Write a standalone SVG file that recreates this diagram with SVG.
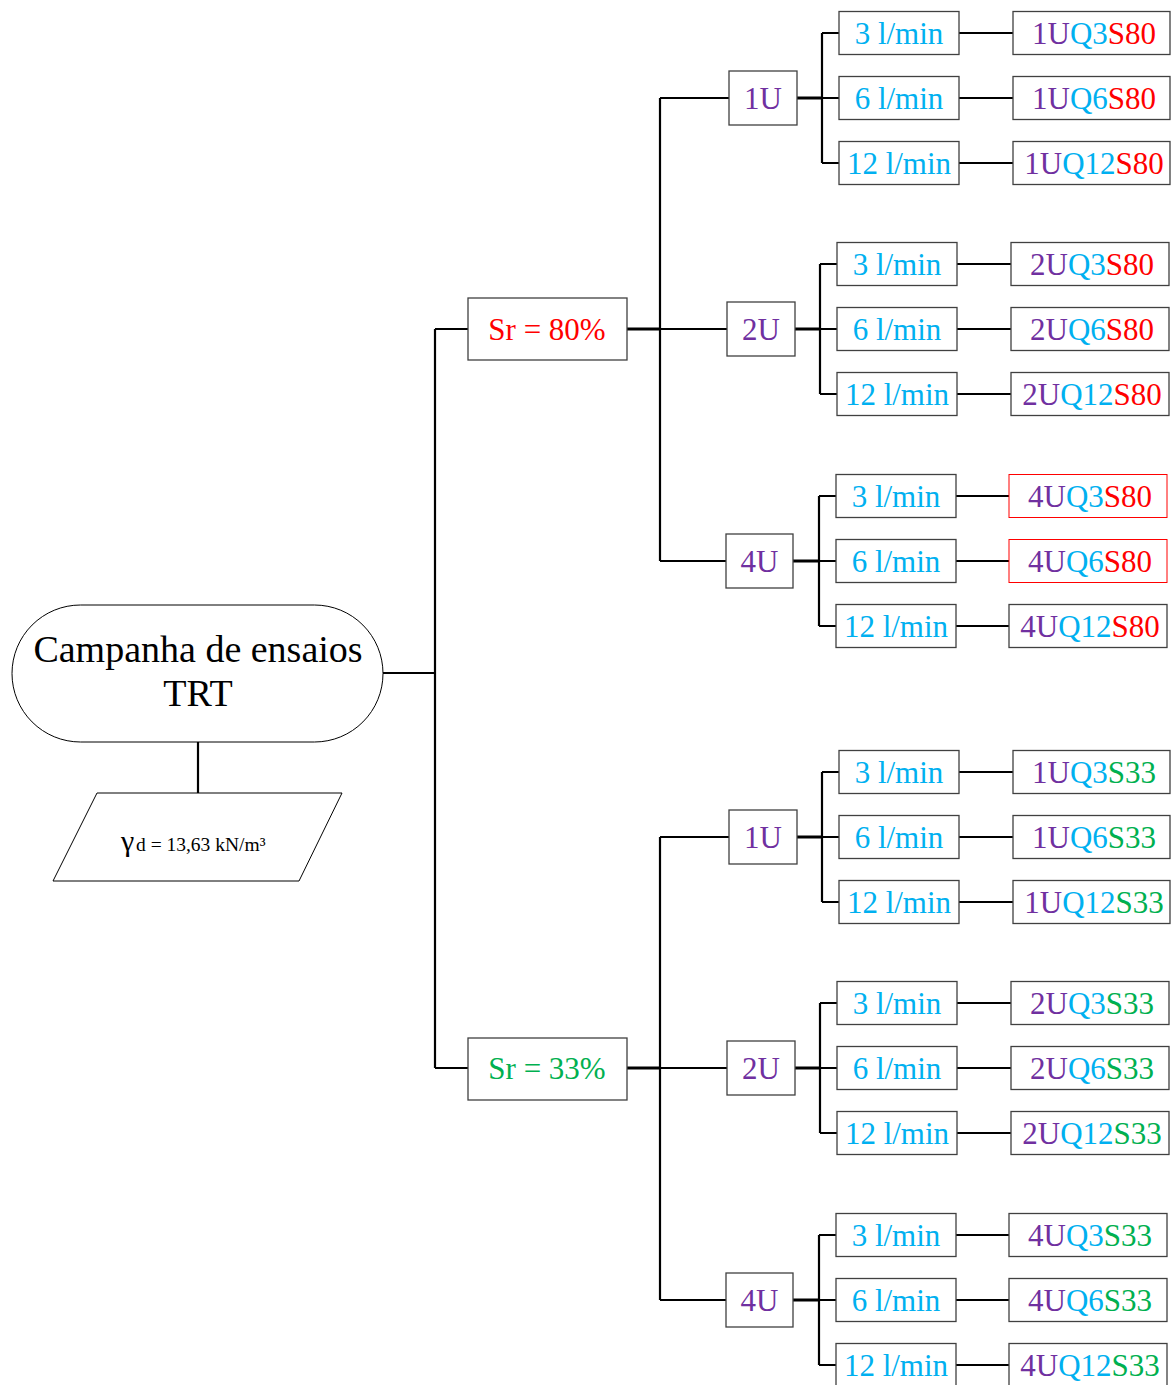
<svg xmlns="http://www.w3.org/2000/svg" width="1171" height="1385" viewBox="0 0 1171 1385">
<style>
text{font-family:"Liberation Serif","Times New Roman",serif;text-anchor:middle}
.b{fill:#fff;stroke:#404040;stroke-width:1.3}
.rb{fill:#fff;stroke:#ff0000;stroke-width:1}
.t{font-size:31px}
.p{fill:#7030a0}.c{fill:#00b0f0}.r{fill:#ff0000}.g{fill:#00b050}
.ln{fill:none;stroke:#000;stroke-width:2.2}
.lt{fill:none;stroke:#000;stroke-width:3}
</style>
<rect width="1171" height="1385" fill="#fff"/>
<g id="connectors">
<path class="ln" d="M383 673H435M435 329V1068M435 329H468M435 1068H468"/>
<path class="lt" d="M627 329H660M627 1068H660"/>
<path class="ln" d="M660 98V561M660 98H729M660 329H727M660 561H726"/>
<path class="ln" d="M660 837V1300M660 837H729M660 1068H727M660 1300H726"/>
<path class="ln" d="M198 742V793"/>
<path class="lt" d="M797 98H822M795 329H820M793 561H819M797 837H822M795 1068H820M793 1300H819"/>
<path class="ln" d="M822 33V163M822 33H839M822 98H839M822 163H839M959 33H1013M959 98H1013M959 163H1013"/>
<path class="ln" d="M820 264V394M820 264H837M820 329H837M820 394H837M957 264H1011M957 329H1011M957 394H1011"/>
<path class="ln" d="M819 496V626M819 496H836M819 561H836M819 626H836M956 496H1009M956 561H1009M956 626H1009"/>
<path class="ln" d="M822 772V902M822 772H839M822 837H839M822 902H839M959 772H1013M959 837H1013M959 902H1013"/>
<path class="ln" d="M820 1003V1133M820 1003H837M820 1068H837M820 1133H837M957 1003H1011M957 1068H1011M957 1133H1011"/>
<path class="ln" d="M819 1235V1365M819 1235H836M819 1300H836M819 1365H836M956 1235H1009M956 1300H1009M956 1365H1009"/>
</g>
<g id="root">
<rect x="12" y="605" width="371" height="137" rx="68.5" ry="68.5" fill="#fff" stroke="#000" stroke-width="1"/>
<text x="198" y="662" font-size="38">Campanha de ensaios</text>
<text x="198" y="706" font-size="38">TRT</text>
</g>
<g id="density">
<polygon points="97,793 342,793 299,881 53,881" fill="#fff" stroke="#000" stroke-width="1"/>
<text x="121" y="851" style="text-anchor:start" font-size="30">γ</text>
<text x="136" y="851" style="text-anchor:start" font-size="19.5">d = 13,63 kN/m³</text>
</g>
<g id="sr80"><rect class="b" x="468" y="298" width="159" height="62"/><text class="t r" x="547" y="340">Sr = 80%</text></g>
<g id="sr33"><rect class="b" x="468" y="1038" width="159" height="62"/><text class="t g" x="547" y="1079">Sr = 33%</text></g>

<g id="s80-1U"><rect class="b" x="729" y="71" width="68" height="54"/><text class="t p" x="763" y="109">1U</text></g>
<g id="s80-2U"><rect class="b" x="727" y="302" width="68" height="54"/><text class="t p" x="761" y="340">2U</text></g>
<g id="s80-4U"><rect class="b" x="726" y="534" width="67" height="54"/><text class="t p" x="759.5" y="572">4U</text></g>
<g id="s33-1U"><rect class="b" x="729" y="810" width="68" height="54"/><text class="t p" x="763" y="848">1U</text></g>
<g id="s33-2U"><rect class="b" x="727" y="1041" width="68" height="54"/><text class="t p" x="761" y="1079">2U</text></g>
<g id="s33-4U"><rect class="b" x="726" y="1273" width="67" height="54"/><text class="t p" x="759.5" y="1311">4U</text></g>

<g id="q-1U80-3"><rect class="b" x="839" y="11.5" width="120" height="43"/><text class="t c" x="899" y="44">3 l/min</text></g>
<g id="q-1U80-6"><rect class="b" x="839" y="76.5" width="120" height="43"/><text class="t c" x="899" y="109">6 l/min</text></g>
<g id="q-1U80-12"><rect class="b" x="839" y="141.5" width="120" height="43"/><text class="t c" x="899" y="174">12 l/min</text></g>
<g id="q-2U80-3"><rect class="b" x="837" y="242.5" width="120" height="43"/><text class="t c" x="897" y="275">3 l/min</text></g>
<g id="q-2U80-6"><rect class="b" x="837" y="307.5" width="120" height="43"/><text class="t c" x="897" y="340">6 l/min</text></g>
<g id="q-2U80-12"><rect class="b" x="837" y="372.5" width="120" height="43"/><text class="t c" x="897" y="405">12 l/min</text></g>
<g id="q-4U80-3"><rect class="b" x="836" y="474.5" width="120" height="43"/><text class="t c" x="896" y="507">3 l/min</text></g>
<g id="q-4U80-6"><rect class="b" x="836" y="539.5" width="120" height="43"/><text class="t c" x="896" y="572">6 l/min</text></g>
<g id="q-4U80-12"><rect class="b" x="836" y="604.5" width="120" height="43"/><text class="t c" x="896" y="637">12 l/min</text></g>
<g id="q-1U33-3"><rect class="b" x="839" y="750.5" width="120" height="43"/><text class="t c" x="899" y="783">3 l/min</text></g>
<g id="q-1U33-6"><rect class="b" x="839" y="815.5" width="120" height="43"/><text class="t c" x="899" y="848">6 l/min</text></g>
<g id="q-1U33-12"><rect class="b" x="839" y="880.5" width="120" height="43"/><text class="t c" x="899" y="913">12 l/min</text></g>
<g id="q-2U33-3"><rect class="b" x="837" y="981.5" width="120" height="43"/><text class="t c" x="897" y="1014">3 l/min</text></g>
<g id="q-2U33-6"><rect class="b" x="837" y="1046.5" width="120" height="43"/><text class="t c" x="897" y="1079">6 l/min</text></g>
<g id="q-2U33-12"><rect class="b" x="837" y="1111.5" width="120" height="43"/><text class="t c" x="897" y="1144">12 l/min</text></g>
<g id="q-4U33-3"><rect class="b" x="836" y="1213.5" width="120" height="43"/><text class="t c" x="896" y="1246">3 l/min</text></g>
<g id="q-4U33-6"><rect class="b" x="836" y="1278.5" width="120" height="43"/><text class="t c" x="896" y="1311">6 l/min</text></g>
<g id="q-4U33-12"><rect class="b" x="836" y="1343.5" width="120" height="43"/><text class="t c" x="896" y="1376">12 l/min</text></g>

<g id="r-1UQ3S80"><rect class="b" x="1013" y="11.5" width="157" height="43"/><text class="t" x="1094" y="44"><tspan class="p">1U</tspan><tspan class="c">Q3</tspan><tspan class="r">S80</tspan></text></g>
<g id="r-1UQ6S80"><rect class="b" x="1013" y="76.5" width="157" height="43"/><text class="t" x="1094" y="109"><tspan class="p">1U</tspan><tspan class="c">Q6</tspan><tspan class="r">S80</tspan></text></g>
<g id="r-1UQ12S80"><rect class="b" x="1013" y="141.5" width="157" height="43"/><text class="t" x="1094" y="174"><tspan class="p">1U</tspan><tspan class="c">Q12</tspan><tspan class="r">S80</tspan></text></g>
<g id="r-2UQ3S80"><rect class="b" x="1011" y="242.5" width="158" height="43"/><text class="t" x="1092" y="275"><tspan class="p">2U</tspan><tspan class="c">Q3</tspan><tspan class="r">S80</tspan></text></g>
<g id="r-2UQ6S80"><rect class="b" x="1011" y="307.5" width="158" height="43"/><text class="t" x="1092" y="340"><tspan class="p">2U</tspan><tspan class="c">Q6</tspan><tspan class="r">S80</tspan></text></g>
<g id="r-2UQ12S80"><rect class="b" x="1011" y="372.5" width="158" height="43"/><text class="t" x="1092" y="405"><tspan class="p">2U</tspan><tspan class="c">Q12</tspan><tspan class="r">S80</tspan></text></g>
<g id="r-4UQ3S80"><rect class="rb" x="1009" y="474.5" width="158" height="43"/><text class="t" x="1090" y="507"><tspan class="p">4U</tspan><tspan class="c">Q3</tspan><tspan class="r">S80</tspan></text></g>
<g id="r-4UQ6S80"><rect class="rb" x="1009" y="539.5" width="158" height="43"/><text class="t" x="1090" y="572"><tspan class="p">4U</tspan><tspan class="c">Q6</tspan><tspan class="r">S80</tspan></text></g>
<g id="r-4UQ12S80"><rect class="b" x="1009" y="604.5" width="158" height="43"/><text class="t" x="1090" y="637"><tspan class="p">4U</tspan><tspan class="c">Q12</tspan><tspan class="r">S80</tspan></text></g>
<g id="r-1UQ3S33"><rect class="b" x="1013" y="750.5" width="157" height="43"/><text class="t" x="1094" y="783"><tspan class="p">1U</tspan><tspan class="c">Q3</tspan><tspan class="g">S33</tspan></text></g>
<g id="r-1UQ6S33"><rect class="b" x="1013" y="815.5" width="157" height="43"/><text class="t" x="1094" y="848"><tspan class="p">1U</tspan><tspan class="c">Q6</tspan><tspan class="g">S33</tspan></text></g>
<g id="r-1UQ12S33"><rect class="b" x="1013" y="880.5" width="157" height="43"/><text class="t" x="1094" y="913"><tspan class="p">1U</tspan><tspan class="c">Q12</tspan><tspan class="g">S33</tspan></text></g>
<g id="r-2UQ3S33"><rect class="b" x="1011" y="981.5" width="158" height="43"/><text class="t" x="1092" y="1014"><tspan class="p">2U</tspan><tspan class="c">Q3</tspan><tspan class="g">S33</tspan></text></g>
<g id="r-2UQ6S33"><rect class="b" x="1011" y="1046.5" width="158" height="43"/><text class="t" x="1092" y="1079"><tspan class="p">2U</tspan><tspan class="c">Q6</tspan><tspan class="g">S33</tspan></text></g>
<g id="r-2UQ12S33"><rect class="b" x="1011" y="1111.5" width="158" height="43"/><text class="t" x="1092" y="1144"><tspan class="p">2U</tspan><tspan class="c">Q12</tspan><tspan class="g">S33</tspan></text></g>
<g id="r-4UQ3S33"><rect class="b" x="1009" y="1213.5" width="158" height="43"/><text class="t" x="1090" y="1246"><tspan class="p">4U</tspan><tspan class="c">Q3</tspan><tspan class="g">S33</tspan></text></g>
<g id="r-4UQ6S33"><rect class="b" x="1009" y="1278.5" width="158" height="43"/><text class="t" x="1090" y="1311"><tspan class="p">4U</tspan><tspan class="c">Q6</tspan><tspan class="g">S33</tspan></text></g>
<g id="r-4UQ12S33"><rect class="b" x="1009" y="1343.5" width="158" height="43"/><text class="t" x="1090" y="1376"><tspan class="p">4U</tspan><tspan class="c">Q12</tspan><tspan class="g">S33</tspan></text></g>
</svg>
